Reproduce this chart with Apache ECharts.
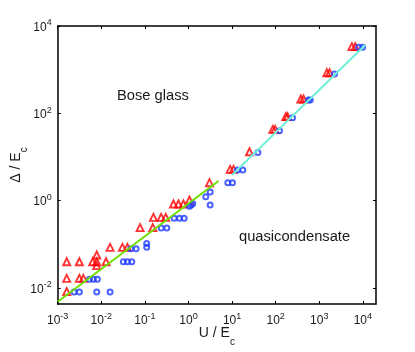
<!DOCTYPE html>
<html><head><meta charset="utf-8">
<script src="https://cdn.jsdelivr.net/npm/echarts@6/dist/echarts.min.js"></script>
<style>html,body{margin:0;padding:0;background:#fff}#c{width:415px;height:352px}</style>
</head><body><div id="c"></div>
<script>
const xTicks = [0.001, 0.01, 0.1, 1, 10, 100, 1000, 10000];
const yTicks = [0.01, 1, 100, 10000];
const xRange = [0.001, 20000];
const yRange = [0.0043, 10000];

const redTriangles = [
  [0.00161, 0.040], [0.00314, 0.040], [0.00161, 0.0166], [0.00314, 0.0166], [0.00388, 0.0166], [0.00161, 0.00824],
  [0.00635, 0.040], [0.00785, 0.057], [0.00785, 0.040], [0.00785, 0.0325], [0.01285, 0.040],
  [0.0159, 0.0853], [0.0305, 0.0853], [0.0397, 0.0853],
  [0.0776, 0.241], [0.152, 0.241], [0.157, 0.415], [0.236, 0.415], [0.301, 0.415],
  [0.452, 0.84], [0.589, 0.84], [0.766, 0.84], [1.05, 1.035],
  [3.03, 2.58], [9.03, 5.22], [10.8, 5.22], [25.1, 13.2],
  [86, 43], [97, 43], [171, 84], [187, 84], [378, 213], [435, 213],
  [1494, 853], [1720, 853], [5600, 3365], [6680, 3365]
];
const blueCircles = [
  [0.00237, 0.00809], [0.00314, 0.00809], [0.00785, 0.00809], [0.0159, 0.00809],
  [0.00533, 0.0158], [0.00659, 0.0158], [0.00813, 0.0158],
  [0.0321, 0.040], [0.0397, 0.040], [0.050, 0.040],
  [0.0474, 0.0796], [0.0628, 0.0796],
  [0.110, 0.105], [0.110, 0.0853],
  [0.236, 0.237], [0.318, 0.237],
  [0.468, 0.394], [0.621, 0.394], [0.794, 0.394],
  [1.05, 0.74], [1.15, 0.8], [1.25, 0.86],
  [2.49, 1.235], [3.14, 1.58], [3.14, 0.796],
  [7.98, 2.58], [10.2, 2.58],
  [13.3, 5.04], [17.6, 5.04],
  [39, 12.6], [122, 40], [243, 79.6], [567, 202], [619, 202],
  [2240, 796], [7960, 3250], [9840, 3250]
];
const greenFit = [[0.001, 0.00486], [4.87, 2.82]];
const cyanFit = [[10, 3.87], [11300, 3670]];

const FONT = "'Liberation Sans', Arial, sans-serif";
const TXT = '#1a1a1a';
const powLabel = v => {
  const e = Math.round(Math.log10(v));
  return '{b|10}{s|' + (e < 0 ? '-' + (-e) : e) + '}';
};
const labelRich = {
  b: {fontSize: 12, lineHeight: 15, verticalAlign: 'bottom', fontFamily: FONT, color: TXT},
  s: {fontSize: 9, lineHeight: 7, verticalAlign: 'top', fontFamily: FONT, color: TXT}
};
const nameRich = {
  a: {fontSize: 14, lineHeight: 16, verticalAlign: 'top', fontFamily: FONT, color: TXT},
  c: {fontSize: 10, lineHeight: 10, padding: [11, 0, 0, 0], verticalAlign: 'top', fontFamily: FONT, color: TXT}
};
const frameLine = {show: true, lineStyle: {color: '#000', width: 1.5}};
const tickStyle = {show: true, inside: true, length: 3, lineStyle: {color: '#000', width: 1}};

const chart = echarts.init(document.getElementById('c'), null, {renderer: 'canvas'});
chart.setOption({
  animation: false,
  backgroundColor: '#fff',
  grid: {left: 57.7, right: 39, top: 26, bottom: 48, outerBoundsMode: 'none', containLabel: false},
  xAxis: [{
    type: 'log', logBase: 10, min: xRange[0], max: xRange[1], position: 'bottom',
    name: '{a|U / E}{c|c}', nameLocation: 'middle', nameGap: 22, nameMoveOverlap: false,
    nameTextStyle: {rich: nameRich},
    axisLine: frameLine, axisTick: Object.assign({customValues: xTicks}, tickStyle),
    axisLabel: {customValues: xTicks, margin: 8, formatter: powLabel, rich: labelRich},
    splitLine: {show: false}, minorTick: {show: false}
  }, {
    type: 'log', logBase: 10, min: xRange[0], max: xRange[1], position: 'top',
    axisLine: frameLine, axisTick: Object.assign({customValues: xTicks}, tickStyle),
    axisLabel: {show: false}, splitLine: {show: false}
  }],
  yAxis: [{
    type: 'log', logBase: 10, min: yRange[0], max: yRange[1], position: 'left',
    name: '{a|Δ / E}{c|c}', nameLocation: 'middle', nameGap: 33, nameMoveOverlap: false,
    nameTextStyle: {rich: nameRich},
    axisLine: frameLine, axisTick: Object.assign({customValues: yTicks}, tickStyle),
    axisLabel: {customValues: yTicks, margin: 6, formatter: powLabel, rich: labelRich},
    splitLine: {show: false}, minorTick: {show: false}
  }, {
    type: 'log', logBase: 10, min: yRange[0], max: yRange[1], position: 'right',
    axisLine: frameLine, axisTick: Object.assign({customValues: yTicks}, tickStyle),
    axisLabel: {show: false}, splitLine: {show: false}
  }],
  series: [{
    type: 'scatter', data: redTriangles, symbol: 'triangle', symbolSize: 7,
    itemStyle: {color: 'rgba(0,0,0,0)', borderColor: '#ff0000', borderWidth: 1.9}, z: 2
  }, {
    type: 'scatter', data: blueCircles, symbol: 'circle', symbolSize: 5,
    itemStyle: {color: 'rgba(0,0,0,0)', borderColor: '#1f3cff', borderWidth: 2}, z: 3
  }, {
    type: 'line', data: greenFit, showSymbol: false, symbol: 'none',
    lineStyle: {color: '#6ee000', width: 2}, z: 4
  }, {
    type: 'line', data: cyanFit, showSymbol: false, symbol: 'none',
    lineStyle: {color: '#6ff0d8', width: 2}, z: 4
  }],
  graphic: [
    {type: 'text', left: 117, top: 88, style: {text: 'Bose glass', font: '14.7px ' + FONT, fill: TXT}},
    {type: 'text', left: 239, top: 229, style: {text: 'quasicondensate', font: '14.7px ' + FONT, fill: TXT}}
  ]
});
</script>
</body></html>
